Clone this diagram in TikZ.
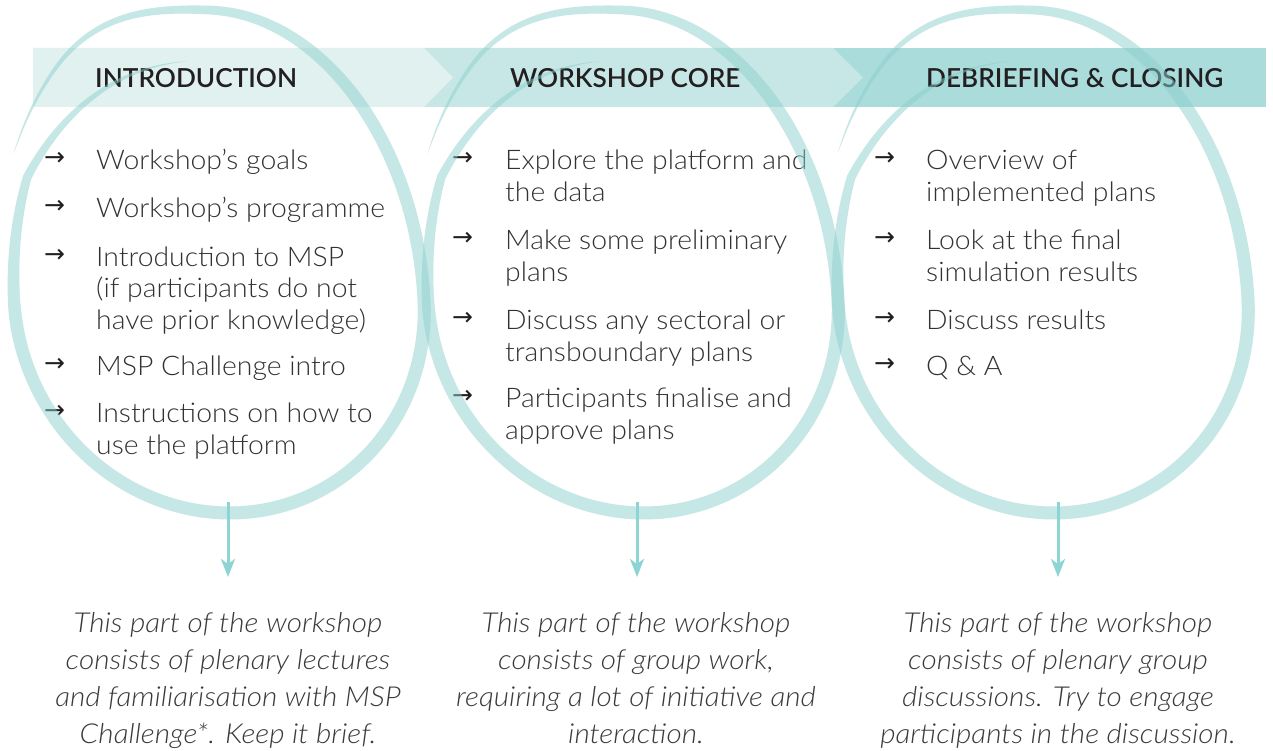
\documentclass[tikz,border=0pt]{standalone}
\usepackage{fontspec}
\IfFontExistsTF{Lato Light}{%
  \IfFontExistsTF{Lato Light Italic}{\setmainfont{Lato Light}[ItalicFont={Lato Light Italic}]}{\setmainfont{Lato Light}}%
}{\IfFontExistsTF{Fira Sans Light}{%
  \IfFontExistsTF{Fira Sans Light Italic}{\setmainfont{Fira Sans Light}[ItalicFont={Fira Sans Light Italic}]}{\setmainfont{Fira Sans Light}}%
}{\IfFontExistsTF{Open Sans Light}{\setmainfont{Open Sans Light}}{\setmainfont{Lato}}}}
\IfFontExistsTF{Lato Semibold}{\newfontfamily\headfont{Lato Semibold}}{%
  \IfFontExistsTF{Lato Medium}{\newfontfamily\headfont{Lato Medium}}{%
  \IfFontExistsTF{Fira Sans Medium}{\newfontfamily\headfont{Fira Sans Medium}}{\newfontfamily\headfont{Lato}[FakeBold=1.2]}}}
\newfontfamily\arrowfont{DejaVu Sans}
\usetikzlibrary{arrows.meta}
\definecolor{bandA}{HTML}{E0F1F0}
\definecolor{bandB}{HTML}{C7E7E6}
\definecolor{bandC}{HTML}{AADCDB}
\definecolor{loopc}{HTML}{8CD0CE}
\definecolor{arrowc}{HTML}{8ED4D2}
\definecolor{headc}{HTML}{231F20}
\definecolor{bodyc}{HTML}{333132}
\definecolor{notec}{HTML}{3A3A3A}
\newcommand\eggloop[2]{%
  \fill[loopfill] plot[domain=96.4:512.4,samples=300,variable=\x]
    ({#1 + (205*rr(\x)+ww(\x)/2)*cos(\x) - 0.05*(bb(\x)*rr(\x)+ww(\x)/2)*sin(\x)},
     {#2 - (bb(\x)*rr(\x)+ww(\x)/2)*sin(\x)})
    -- plot[domain=512.4:96.4,samples=300,variable=\x]
    ({#1 + (205*rr(\x)-ww(\x)/2)*cos(\x) - 0.05*(bb(\x)*rr(\x)-ww(\x)/2)*sin(\x)},
     {#2 - (bb(\x)*rr(\x)-ww(\x)/2)*sin(\x)}) -- cycle;}
\begin{document}
\begin{tikzpicture}[x=1pt,y=-1pt,
  declare function={
    uu(\x)=min(1,max(0,(\x-96.4)/58.6));
    vv(\x)=min(1,max(0,(\x-448)/45));
    rr(\x)=0.83+0.17*uu(\x)*sqrt(uu(\x))+0.09*sin(90*vv(\x))*sin(90*vv(\x));
    ww(\x)=13*min(1,max(0,(\x-96.4)/88.6),pow(max(0.0001,(512.4-\x)/112.4),0.7));
    bb(\x)=(sin(\x)>0)?290:213;
  },
  loopfill/.style={fill=loopc,fill opacity=0.5},
  head/.style={anchor=base west,inner sep=0,text=headc,font=\fontsize{26.2}{30}\selectfont\headfont},
  item/.style={anchor=base west,inner sep=0,text=bodyc,font=\fontsize{27}{31}\selectfont\addfontfeatures{FakeStretch=1.05}},
  bullet/.style={anchor=base west,inner sep=0,text=headc,font=\fontsize{25}{28}\selectfont\arrowfont},
  note/.style={anchor=base,inner sep=0,text=notec,font=\fontsize{27.5}{31}\selectfont\itshape\addfontfeatures{FakeStretch=1.08}},
  downarrow/.style={draw=arrowc,line width=3pt,-{Stealth[length=18pt,width=14pt,inset=5pt]}}
]
\useasboundingbox (0,0) rectangle (1273,751);
\fill[white] (0,0) rectangle (1273,751);
% banner
\fill[bandC] (833,48) -- (1266,48) -- (1266,107) -- (833,107) -- cycle;
\fill[bandB] (424,48) -- (833,48) -- (863,77.5) -- (833,107) -- (424,107) -- cycle;
\fill[bandA] (33,48) -- (424,48) -- (453,77.5) -- (424,107) -- (33,107) -- cycle;
\node[head] (h1) at (95,88) {INTRODUCTION};
\node[head] (h2) at (510,88) {WORKSHOP CORE};
\node[head] (h3) at (926,88) {DEBRIEFING \& CLOSING};
% column 1
\node[bullet] (b11) at (44,166) {→};
\node[item] (i11) at (96,170) {Workshop’s goals};
\node[bullet] (b12) at (44,214) {→};
\node[item] (i12) at (96,218) {Workshop’s programme};
\node[bullet] (b13) at (44,262) {→};
\node[item] (i13a) at (96,266) {Introduction to MSP};
\node[item] (i13b) at (96,297) {(if participants do not};
\node[item] (i13c) at (96,329) {have prior knowledge)};
\node[bullet] (b14) at (44,371) {→};
\node[item] (i14) at (96,375) {MSP Challenge intro};
\node[bullet] (b15) at (44,418) {→};
\node[item] (i15a) at (96,422) {Instructions on how to};
\node[item] (i15b) at (96,454) {use the platform};
% column 2
\node[bullet] (b21) at (452,166) {→};
\node[item] (i21a) at (505,170) {Explore the platform and};
\node[item] (i21b) at (505,202) {the data};
\node[bullet] (b22) at (452,246) {→};
\node[item] (i22a) at (505,250) {Make some preliminary};
\node[item] (i22b) at (505,281) {plans};
\node[bullet] (b23) at (452,325) {→};
\node[item] (i23a) at (505,329) {Discuss any sectoral or};
\node[item] (i23b) at (505,361) {transboundary plans};
\node[bullet] (b24) at (452,403) {→};
\node[item] (i24a) at (505,407) {Participants finalise and};
\node[item] (i24b) at (505,439) {approve plans};
% column 3
\node[bullet] (b31) at (874,166) {→};
\node[item] (i31a) at (926,170) {Overview of};
\node[item] (i31b) at (926,202) {implemented plans};
\node[bullet] (b32) at (874,246) {→};
\node[item] (i32a) at (926,250) {Look at the final};
\node[item] (i32b) at (926,281) {simulation results};
\node[bullet] (b33) at (874,325) {→};
\node[item] (i33) at (926,329) {Discuss results};
\node[bullet] (b34) at (874,371) {→};
\node[item] (i34) at (926,375) {Q \& A};
% loops
\eggloop{219}{300}
\eggloop{633}{300}
\eggloop{1043}{300}
% down arrows
\coordinate (s1) at (228,502); \coordinate (e1) at (228,577);
\coordinate (s2) at (637,502); \coordinate (e2) at (637,577);
\coordinate (s3) at (1058,502); \coordinate (e3) at (1058,577);
\draw[downarrow] (s1) -- (e1);
\draw[downarrow] (s2) -- (e2);
\draw[downarrow] (s3) -- (e3);
% notes
\node[note] (n1a) at (228,632) {This part of the workshop};
\node[note] (n1b) at (228,669) {consists of plenary lectures};
\node[note] (n1c) at (228,706) {and familiarisation with MSP};
\node[note] (n1d) at (228,743) {Challenge*. Keep it brief.};
\node[note] (n2a) at (636,632) {This part of the workshop};
\node[note] (n2b) at (636,669) {consists of group work,};
\node[note] (n2c) at (636,706) {requiring a lot of initiative and};
\node[note] (n2d) at (636,743) {interaction.};
\node[note] (n3a) at (1058,632) {This part of the workshop};
\node[note] (n3b) at (1058,669) {consists of plenary group};
\node[note] (n3c) at (1058,706) {discussions. Try to engage};
\node[note] (n3d) at (1058,743) {participants in the discussion.};
\end{tikzpicture}
\end{document}
